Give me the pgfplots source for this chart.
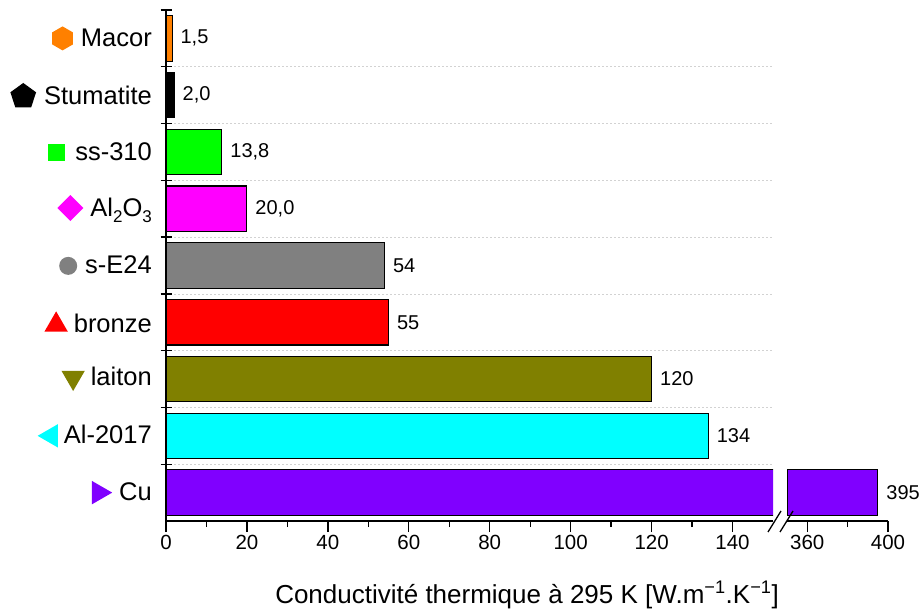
\documentclass[border=0pt]{standalone}
\usepackage{fontspec}
\setmainfont{Liberation Sans}
\usepackage{pgfplots}
\pgfplotsset{compat=1.18}
\usetikzlibrary{shapes.geometric}

% small coloured marker in front of each category name
\newcommand{\mk}[2]{\tikz[baseline=-0.6ex]\node[#1,fill=#2,draw=none,inner sep=0pt]{};}

\definecolor{cMacor}{HTML}{FF8000}
\definecolor{cSs}{HTML}{00FF00}
\definecolor{cAl}{HTML}{FF00FF}
\definecolor{cE}{HTML}{808080}
\definecolor{cBr}{HTML}{FF0000}
\definecolor{cLa}{HTML}{808000}
\definecolor{cAlu}{HTML}{00FFFF}
\definecolor{cCu}{HTML}{8000FF}

\pgfplotsset{
  common/.style={
    scale only axis, height=511pt,
    ymin=0.5, ymax=9.5, y dir=reverse,
    axis x line=bottom, axis y line=left,
    axis line style={-, line width=1.6pt},
    tick align=outside, major tick length=11pt, minor tick length=6pt,
    every tick/.style={black, line width=1.3pt},
    x tick label style={font=\fontsize{20.5}{24}\selectfont},
    /pgf/number format/assume math mode=true,
    xbar, bar width=0.8, bar shift=0pt,
    minor ytick={1.5,...,8.5}, yminorgrids=true,
    minor y tick style={draw=none},
    minor grid style={gray!35, line width=0.7pt, dash pattern=on 2pt off 2pt},
    point meta=explicit symbolic,
  },
  bar/.style={fill=#1, draw=black, line width=1.1pt},
  vlab/.style={nodes near coords,
    every node near coord/.append style={font=\fontsize{20}{24}\selectfont,
      anchor=west, inner sep=0pt, xshift=8pt, black}},
}

\begin{document}
\begin{tikzpicture}
\useasboundingbox (0,0) rectangle (920pt,610pt);
\begin{axis}[common,
  at={(166pt,89pt)}, anchor=south west, width=607pt,
  xmin=0, xmax=150,
  xtick={0,20,...,140}, minor xtick={10,30,...,130},
  ytick={1,...,9},
  major y tick style={draw=none},
  yticklabel style={font=\fontsize{25.5}{28}\selectfont, inner sep=0pt, xshift=-3pt},
  yticklabels={
    {\mk{regular polygon,regular polygon sides=6,shape border rotate=30,minimum size=24pt}{cMacor}\hspace{8pt}Macor},
    {\mk{regular polygon,regular polygon sides=5,minimum size=27pt}{black}\hspace{8pt}Stumatite},
    {\mk{rectangle,minimum size=17pt}{cSs}\hspace{10pt}ss-310},
    {\mk{regular polygon,regular polygon sides=4,shape border rotate=45,minimum size=26pt}{cAl}\hspace{7pt}Al\raisebox{-0.45ex}{\fontsize{17}{20}\selectfont 2}O\raisebox{-0.45ex}{\fontsize{17}{20}\selectfont 3}},
    {\mk{circle,minimum size=18pt}{cE}\hspace{8pt}s-E24},
    {\mk{regular polygon,regular polygon sides=3,minimum size=27pt}{cBr}\hspace{6pt}bronze},
    {\mk{regular polygon,regular polygon sides=3,shape border rotate=180,minimum size=27pt}{cLa}\hspace{6pt}laiton},
    {\mk{regular polygon,regular polygon sides=3,shape border rotate=90,minimum size=27pt}{cAlu}\hspace{6pt}Al-2017},
    {\mk{regular polygon,regular polygon sides=3,shape border rotate=-90,minimum size=27pt}{cCu}\hspace{7pt}Cu}},
  extra y ticks={0.5,...,8.5}, extra y tick labels={},
  extra y tick style={tick align=center, major tick length=11pt, major y tick style={draw=black}},
]
\addplot[bar=cMacor, vlab] coordinates {(1.5,1) [{1,5}]};
\addplot[bar=black, vlab] coordinates {(2.0,2) [{2,0}]};
\addplot[bar=cSs, vlab] coordinates {(13.8,3) [{13,8}]};
\addplot[bar=cAl, vlab] coordinates {(20.0,4) [{20,0}]};
\addplot[bar=cE, vlab] coordinates {(54,5) [54]};
\addplot[bar=cBr, vlab] coordinates {(55,6) [55]};
\addplot[bar=cLa, vlab] coordinates {(120,7) [120]};
\addplot[bar=cAlu, vlab] coordinates {(134,8) [134]};
\addplot[bar=cCu] coordinates {(395,9) [395]};
\end{axis}

\begin{axis}[common,
  at={(787pt,89pt)}, anchor=south west, width=101pt,
  xmin=350, xmax=400,
  xtick={360,400}, minor xtick={380},
  ytick=\empty, y axis line style={draw=none},
]
\addplot[bar=cCu, vlab] coordinates {(395,9) [395]};
\end{axis}

% axis break marks
\draw[line width=1.3pt] (768pt,78pt) -- (781pt,99pt);
\draw[line width=1.3pt] (780pt,78pt) -- (793pt,99pt);

\node[font=\fontsize{26}{30}\selectfont, anchor=base] at (527pt,7pt)
  {Conductivité thermique à 295 K [W.m\textsuperscript{−1}.K\textsuperscript{−1}]};
\end{tikzpicture}
\end{document}
